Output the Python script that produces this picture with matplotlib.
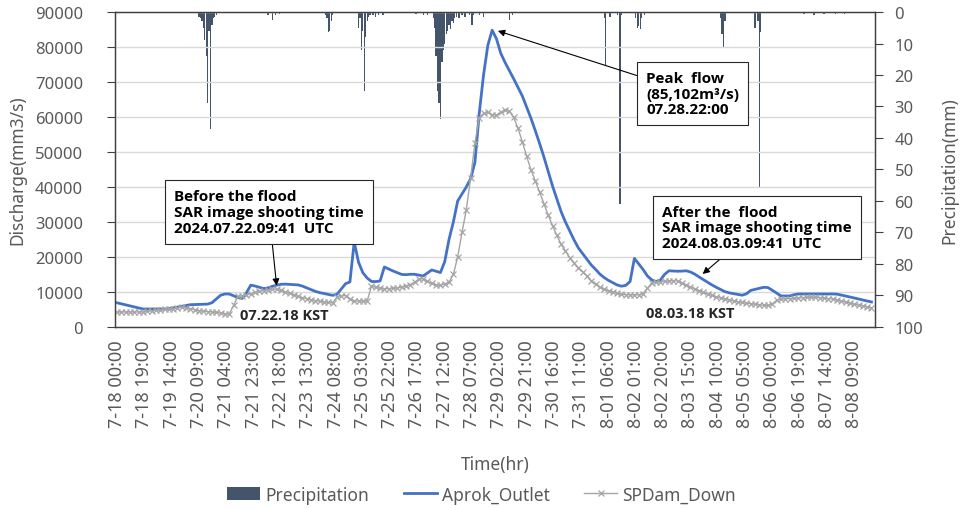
import numpy as np
import matplotlib
matplotlib.use("Agg")
import matplotlib.pyplot as plt

plt.rcParams['font.family'] = ['Noto Sans', 'DejaVu Sans']

# discharge (m3/s), read every 3 hours from 7-18 00:00 (one row per day)
aprok_outlet = [
    6900, 6610, 6310, 6020, 5730, 5430, 5140, 5140,
    5140, 5140, 5140, 5140, 5220, 5450, 5680, 5910,
    6140, 6370, 6410, 6460, 6500, 6540, 6930, 8000,
    9070, 9430, 9430, 8920, 8430, 8150, 9780, 11950,
    11700, 11340, 10980, 11160, 11620, 11930, 12200, 12240,
    12170, 12100, 12020, 11670, 11170, 10670, 10170, 9820,
    9560, 9300, 9040, 9330, 10860, 12370, 12860, 24300,
    18500, 15500, 14000, 13000, 12970, 13140, 17140, 16570,
    16000, 15510, 15020, 14940, 15060, 15060, 14810, 14570,
    15430, 16290, 15920, 15550, 18700, 25070, 30000, 36000,
    38000, 40000, 42400, 47000, 61000, 72000, 80500, 84800,
    82340, 78200, 75570, 73250, 70890, 68440, 66000, 62820,
    59640, 56120, 52450, 48610, 44450, 40290, 36610, 32940,
    29990, 27430, 24860, 22590, 20960, 19320, 17690, 16450,
    15100, 14100, 13300, 12650, 12000, 11650, 11900, 13000,
    19600, 18000, 16450, 14600, 13470, 12990, 13400, 15020,
    16050, 16000, 15930, 15960, 16060, 15720, 15100, 14290,
    13530, 12770, 12000, 11330, 10710, 10100, 9750, 9530,
    9300, 9080, 9480, 10460, 10760, 11060, 11340, 11260,
    10480, 9690, 8860, 8860, 8860, 9200, 9430, 9430,
    9430, 9430, 9430, 9430, 9430, 9430, 9430, 9380,
    9120, 8840, 8570, 8290, 8000, 7710, 7430, 7140,
]
spdam_down = [
    4290, 4290, 4290, 4290, 4290, 4290, 4290, 4470,
    4600, 4740, 4870, 5000, 5100, 5270, 5460, 5650,
    5520, 5240, 4950, 4660, 4510, 4420, 4320, 4160,
    3970, 3770, 3710, 6140, 8710, 8930, 9140, 9510,
    9880, 10160, 10410, 10610, 10730, 10860, 10430, 10000,
    9570, 9140, 8710, 8380, 8100, 7810, 7530, 7330,
    7170, 7020, 6860, 8570, 8880, 8990, 8050, 7430,
    7430, 7430, 7430, 11620, 11330, 11050, 10890, 10970,
    11060, 11140, 11430, 11710, 12100, 12800, 13700, 13800,
    13000, 12450, 12000, 11900, 12300, 12800, 15000, 20000,
    27000, 33500, 42500, 52500, 59800, 61000, 61300, 60700,
    60500, 61300, 62000, 61600, 59870, 56750, 52940, 48770,
    44940, 41760, 38570, 35270, 31960, 28980, 26170, 23650,
    21750, 19840, 18170, 16950, 15740, 14520, 13200, 12300,
    11300, 10800, 10300, 10000, 9700, 9300, 9250, 9200,
    9150, 9200, 9500, 11000, 12600, 12800, 12900, 13000,
    13150, 13250, 13150, 12500, 11900, 11400, 10900, 10400,
    9900, 9400, 9000, 8600, 8300, 8000, 7700, 7450,
    7200, 7000, 6800, 6650, 6500, 6350, 6200, 6150,
    6600, 7600, 7950, 8050, 8100, 8200, 8300, 8390,
    8470, 8540, 8490, 8370, 8240, 8120, 8000, 7690,
    7390, 7080, 6780, 6490, 6250, 6020, 5780, 5510,
]

# hourly precipitation (mm), only the hours with rain (hour 0 = 7-18 00:00)
rain_hour = [57, 58, 59, 60, 61, 62, 63, 64, 65, 66, 67, 68, 69,
             105, 108, 110, 113,
             145, 146, 147, 148, 149, 150,
             168, 169, 170, 171, 172, 173, 174, 175, 176, 178, 180, 182, 185,
             208, 213, 216,
             220, 221, 222, 223, 224, 225, 226, 227, 228, 229, 230, 231, 232,
             233, 234, 235, 236, 238, 240, 242, 245, 247, 248,
             252, 255, 273, 275,
             339, 340, 343, 348, 350, 351,
             361, 362, 363, 364, 365, 367,
             420, 421, 422, 423,
             444, 446, 447, 448,
             478, 485, 492, 500, 506]
rain_mm = [1.5, 2, 3, 5, 9, 14, 29, 6, 37, 4, 2, 1.5, 1,
           1, 2.5, 1, 0.5,
           1, 2, 6.5, 6, 3, 1,
           5, 2, 12, 6, 25, 8, 3, 1.5, 1, 1, 1.5, 1, 1,
           0.5, 1, 0.8,
           2, 5, 14, 25, 29, 34, 16, 12, 10, 7, 6, 4, 5.5,
           3, 3.5, 2, 1.5, 2, 1, 1.5, 1, 4, 1,
           1, 1.5, 2.4, 1,
           2, 17, 1.5, 1, 61, 1,
           2, 5, 4.5, 5.5, 2, 1,
           2, 7, 11, 3,
           5, 3, 56, 6.5,
           0.5, 0.8, 0.5, 0.7, 0.5]

tick_labels = ['7-18 00:00', '7-18 19:00', '7-19 14:00', '7-20 09:00', '7-21 04:00',
               '7-21 23:00', '7-22 18:00', '7-23 13:00', '7-24 08:00', '7-25 03:00',
               '7-25 22:00', '7-26 17:00', '7-27 12:00', '7-28 07:00', '7-29 02:00',
               '7-29 21:00', '7-30 16:00', '7-31 11:00', '8-01 06:00', '8-02 01:00',
               '8-02 20:00', '8-03 15:00', '8-04 10:00', '8-05 05:00', '8-06 00:00',
               '8-06 19:00', '8-07 14:00', '8-08 09:00']

hours = np.arange(len(aprok_outlet)) * 3
grey_txt = '#595959'
bold_font = ['Open Sans', 'DejaVu Sans']

fig = plt.figure(figsize=(9.63, 5.10), dpi=100)
ax = fig.add_axes([0.1194, 0.3569, 0.7893, 0.6176])
ax2 = ax.twinx()
ax.set_zorder(ax2.get_zorder() + 1)
ax.patch.set_visible(False)

bars = ax2.bar(rain_hour, rain_mm, width=0.9, color='#44546A', label='Precipitation')
ax2.set_ylim(100, 0)
ax2.set_yticks(np.arange(0, 101, 10))
ax2.set_ylabel('Precipitation(mm)', color=grey_txt, fontsize=12.5, labelpad=12)

l1, = ax.plot(hours, aprok_outlet, color='#4472C4', lw=2.0, label='Aprok_Outlet')
l2, = ax.plot(hours, spdam_down, color='#A5A5A5', lw=1.0, marker='x',
              markersize=4.5, markeredgewidth=0.9, label='SPDam_Down')

ax.set_xlim(-1.5, 527.5)
ax.set_ylim(0, 90000)
ax.set_yticks(np.arange(0, 90001, 10000))
ax.set_xticks(np.arange(len(tick_labels)) * 19)
ax.set_xticklabels(tick_labels, rotation=90)
ax.yaxis.grid(True, color='#D9D9D9', lw=1)
ax.set_ylabel('Discharge(mm3/s)', color=grey_txt, fontsize=12.5, labelpad=6)
ax.set_xlabel('Time(hr)', color=grey_txt, fontsize=12.5, labelpad=20)

ax.tick_params(axis='x', length=0, pad=9, labelsize=13, labelcolor=grey_txt)
ax.tick_params(axis='y', length=6, width=0.8, pad=17, labelsize=12,
               labelcolor=grey_txt, color='#404040')
ax2.tick_params(axis='y', length=6, width=0.8, pad=8, labelsize=12,
                labelcolor=grey_txt, color='#404040')
for a in (ax, ax2):
    for s in a.spines.values():
        s.set_color('#404040')
        s.set_linewidth(0.9)

box = dict(boxstyle='square,pad=0.6', fc='white', ec='#262626', lw=0.8)
arrow = dict(arrowstyle='-|>', color='black', lw=0.8, mutation_scale=10,
             shrinkA=0, shrinkB=0)
note = dict(ha='center', va='center', multialignment='left', fontsize=11,
            fontweight='bold', family=bold_font, linespacing=1.15)
ax.annotate('Before the flood\nSAR image shooting time\n2024.07.22.09:41  UTC',
            xy=(111, 11800), xytext=(105.7, 32860), bbox=box, arrowprops=arrow, **note)
ax.annotate('Peak  flow\n(85,102m³/s)\n07.28.22:00',
            xy=(265, 84600), xytext=(400.6, 66710), bbox=box, arrowprops=arrow, **note)
ax.annotate('After the  flood\nSAR image shooting time\n2024.08.03.09:41  UTC',
            xy=(407.5, 15140), xytext=(445.4, 28430), bbox=box, arrowprops=arrow, **note)
ax.text(116, 3430, '07.22.18 KST', ha='center', va='center', fontsize=10.5,
        fontweight='bold', family=bold_font, color='#262626')
ax.text(398.5, 4000, '08.03.18 KST', ha='center', va='center', fontsize=10.5,
        fontweight='bold', family=bold_font, color='#262626')

leg = fig.legend(handles=[bars, l1, l2], loc='lower center', bbox_to_anchor=(0.5, -0.02),
                 ncol=3, frameon=False, fontsize=12.5, handlelength=1.9,
                 handletextpad=0.3, columnspacing=2.0, labelcolor=grey_txt)

fig.savefig('out.png', dpi=100)
